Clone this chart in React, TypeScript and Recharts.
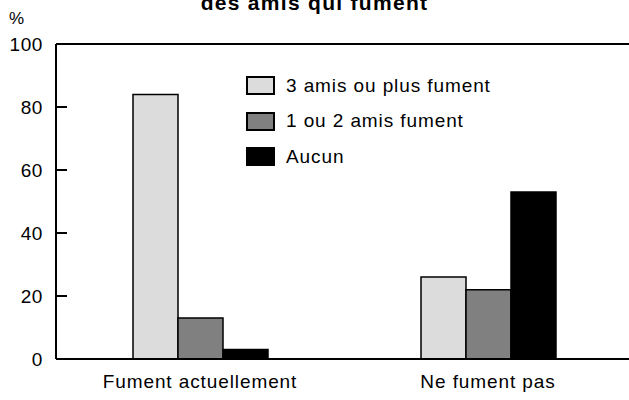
import React from 'react';
import { Bar, BarChart, Legend, ReferenceLine, XAxis, YAxis } from 'recharts';

const groups = ['Fument actuellement', 'Ne fument pas'];
const threeOrMore = [84, 26];
const oneOrTwo = [13, 22];
const none = [3, 53];
const yTicks = [0, 20, 40, 60, 80, 100];

const series = [
  { key: 'threeOrMore', name: '3 amis ou plus fument', fill: '#dcdcdc' },
  { key: 'oneOrTwo', name: '1 ou 2 amis fument', fill: '#808080' },
  { key: 'none', name: 'Aucun', fill: '#000000' },
];

const data = groups.map((group, i) => ({
  group,
  threeOrMore: threeOrMore[i],
  oneOrTwo: oneOrTwo[i],
  none: none[i],
}));

const FONT = '"Liberation Sans", Arial, sans-serif';

const LeftTick = (props) => {
  const { x, y, payload } = props;
  const v = payload.value;
  return (
    <g>
      {v !== 0 && v !== 100 && <line x1={x} x2={x + 11} y1={y} y2={y} stroke="#000" strokeWidth={2} />}
      <text x={x - 13} y={y} dy="0.36em" textAnchor="end" fontSize={19} letterSpacing={0.6} fontFamily={FONT} fill="#000">
        {v}
      </text>
    </g>
  );
};

const RightTick = (props) => {
  const { x, y, payload } = props;
  const v = payload.value;
  if (v === 0 || v === 100) return null;
  return <line x1={x - 11} x2={x} y1={y} y2={y} stroke="#000" strokeWidth={2} />;
};

const LegendContent = () => (
  <div style={{ fontFamily: FONT }}>
    {series.map((s) => (
      <div key={s.key} style={{ display: 'flex', alignItems: 'center', height: 35.5 }}>
        <span
          style={{
            display: 'inline-block',
            width: 29,
            height: 19,
            boxSizing: 'border-box',
            background: s.fill,
            border: '2px solid #000',
          }}
        />
        <span style={{ marginLeft: 11, fontSize: 19, letterSpacing: 0.9, color: '#000' }}>{s.name}</span>
      </div>
    ))}
  </div>
);

const App = () => {
  return (
    <div style={{ position: 'absolute', left: 0, top: 0, width: 629, height: 400, overflow: 'hidden', background: '#fff', fontFamily: FONT }}>
      <div
        style={{
          position: 'absolute',
          top: -8,
          left: 0,
          width: 629,
          textAlign: 'center',
          fontSize: 21,
          lineHeight: '21px',
          fontWeight: 'bold',
          letterSpacing: 1.3,
        }}
      >
        des amis qui fument
      </div>
      <div style={{ position: 'absolute', top: 10, left: 9, fontSize: 17, lineHeight: '17px' }}>%</div>
      <BarChart width={640} height={400} data={data} margin={{ top: 44, right: 0, bottom: 0, left: 0 }} barGap={0} barSize={45}>
        <XAxis
          dataKey="group"
          height={41}
          tickLine={false}
          tickSize={0}
          tickMargin={16}
          axisLine={{ stroke: '#000', strokeWidth: 2 }}
          tick={{ fill: '#000', fontSize: 19, fontFamily: FONT, letterSpacing: 0.9 }}
        />
        <YAxis
          yAxisId="left"
          width={56}
          domain={[0, 100]}
          ticks={yTicks}
          tickSize={0}
          tickMargin={0}
          tickLine={false}
          axisLine={{ stroke: '#000', strokeWidth: 2 }}
          tick={<LeftTick />}
        />
        <YAxis
          yAxisId="right"
          orientation="right"
          width={8}
          domain={[0, 100]}
          ticks={yTicks}
          tickSize={0}
          tickMargin={0}
          tickLine={false}
          axisLine={{ stroke: '#000', strokeWidth: 2 }}
          tick={<RightTick />}
        />
        <ReferenceLine yAxisId="left" y={100} stroke="#000" strokeWidth={2} />
        <Legend
          layout="vertical"
          align="center"
          verticalAlign="middle"
          wrapperStyle={{ left: 246, top: 68, width: 320 }}
          content={<LegendContent />}
        />
        {series.map((s) => (
          <Bar
            key={s.key}
            yAxisId="left"
            dataKey={s.key}
            name={s.name}
            fill={s.fill}
            stroke="#000"
            strokeWidth={1.5}
            isAnimationActive={false}
          />
        ))}
      </BarChart>
    </div>
  );
};

export default App;
